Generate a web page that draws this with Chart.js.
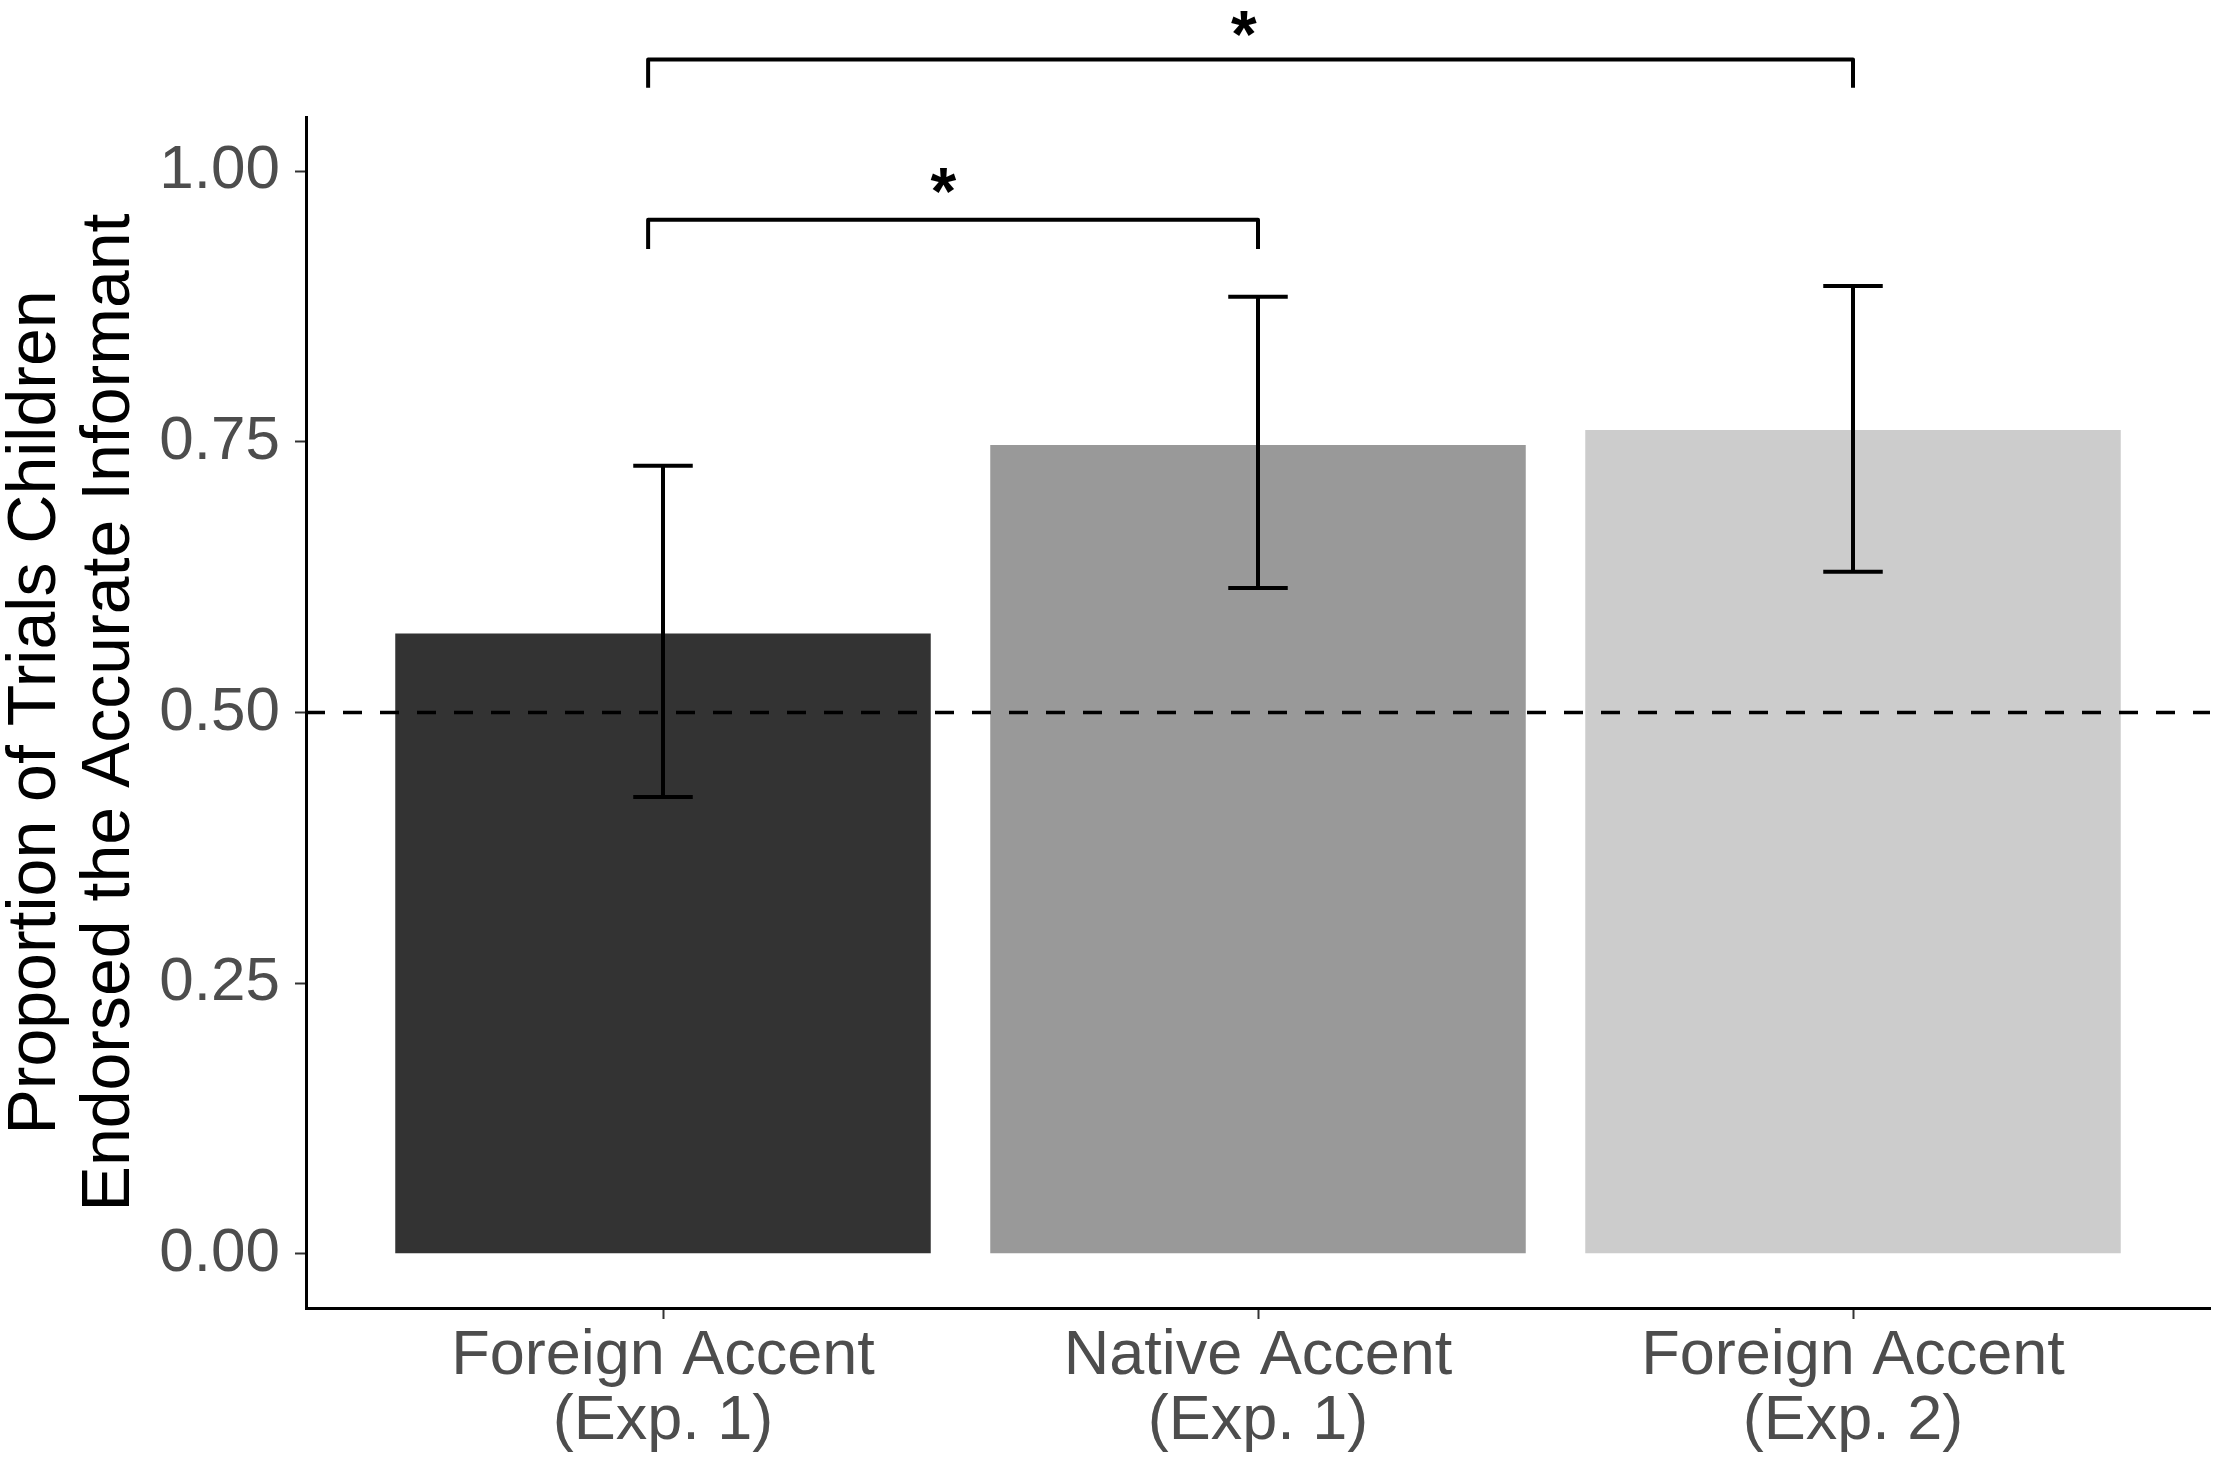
<!DOCTYPE html>
<html><head><meta charset="utf-8">
<script src="https://cdn.jsdelivr.net/npm/chart.js@4"></script>
<style>html,body{margin:0;padding:0;background:#fff;overflow:hidden}</style>
</head><body>
<canvas id="c" width="2217" height="1465" style="display:block;width:2217px;height:1465px"></canvas>
<script>
// ---- data ----
const categories = [["Foreign Accent", "(Exp. 1)"], ["Native Accent", "(Exp. 1)"], ["Foreign Accent", "(Exp. 2)"]];
const means = [0.573, 0.747, 0.761];
const errLow = [0.422, 0.615, 0.630];
const errHigh = [0.728, 0.884, 0.894];
const barColors = ["#333333", "#999999", "#cccccc"];
const yTickValues = [0, 0.25, 0.5, 0.75, 1.0];
const chanceLevel = 0.5;
const bracketFrom = [-0.025, -0.025];
const bracketTo = [1.0, 2.0];
const bracketY = [0.955, 1.103];
const bracketTipY = [0.928, 1.077];
const starLabels = ["*", "*"];
const starX = [0.471, 0.976];
const starY = [0.996, 1.141];
const yTitle = ["Proportion of Trials Children", "Endorsed the Accurate Informant"];

const FONT = "'Liberation Sans', Arial, Helvetica, sans-serif";

const overlay = {
  id: 'overlay',
  afterDatasetsDraw(chart) {
    const ctx = chart.ctx, xs = chart.scales.x, ys = chart.scales.y;
    ctx.save();
    ctx.strokeStyle = '#000';
    // dashed reference line
    ctx.lineWidth = 3.5;
    ctx.setLineDash([19, 18]);
    ctx.beginPath();
    const yc = ys.getPixelForValue(chanceLevel);
    ctx.moveTo(xs.getPixelForValue(xs.min), yc);
    ctx.lineTo(xs.getPixelForValue(xs.max), yc);
    ctx.stroke();
    ctx.setLineDash([]);
    // error bars
    ctx.lineWidth = 4;
    ctx.lineCap = 'butt';
    for (let i = 0; i < means.length; i++) {
      const xc = xs.getPixelForValue(i);
      const xl = xs.getPixelForValue(i - 0.05), xr = xs.getPixelForValue(i + 0.05);
      const yl = ys.getPixelForValue(errLow[i]), yh = ys.getPixelForValue(errHigh[i]);
      ctx.beginPath();
      ctx.moveTo(xc, yl); ctx.lineTo(xc, yh);
      ctx.moveTo(xl, yl); ctx.lineTo(xr, yl);
      ctx.moveTo(xl, yh); ctx.lineTo(xr, yh);
      ctx.stroke();
    }
    // significance brackets
    ctx.lineWidth = 4;
    ctx.lineJoin = 'round';
    for (let i = 0; i < bracketFrom.length; i++) {
      const x1 = xs.getPixelForValue(bracketFrom[i]), x2 = xs.getPixelForValue(bracketTo[i]);
      const yb = ys.getPixelForValue(bracketY[i]), yt = ys.getPixelForValue(bracketTipY[i]);
      ctx.beginPath();
      ctx.moveTo(x1, yt); ctx.lineTo(x1, yb); ctx.lineTo(x2, yb); ctx.lineTo(x2, yt);
      ctx.stroke();
      const fs = 66;
      ctx.font = 'bold ' + fs + 'px ' + FONT;
      ctx.fillStyle = '#000';
      ctx.textAlign = 'center';
      ctx.textBaseline = 'alphabetic';
      ctx.fillText(starLabels[i], xs.getPixelForValue(starX[i]), ys.getPixelForValue(starY[i]) + 0.58 * fs);
    }
    ctx.restore();
  }
};

new Chart(document.getElementById('c'), {
  type: 'bar',
  data: {
    datasets: [{
      data: means.map((v, i) => ({ x: i, y: v })),
      backgroundColor: barColors,
      borderWidth: 0,
      barPercentage: 0.9,
      categoryPercentage: 1.0
    }]
  },
  options: {
    responsive: false,
    devicePixelRatio: 1,
    animation: false,
    layout: { padding: { left: 0, right: 7, top: 117, bottom: 0 } },
    plugins: { legend: { display: false }, tooltip: { enabled: false }, title: { display: false } },
    scales: {
      x: {
        type: 'linear',
        offset: false,
        min: -0.6, max: 2.6,
        afterBuildTicks: s => { s.ticks = categories.map((c, i) => ({ value: i })); },
        afterFit: s => { s.height = 157; },
        ticks: {
          callback: v => categories[v],
          color: '#4d4d4d',
          font: { family: FONT, size: 63, lineHeight: 1.03 },
          padding: 5,
          maxRotation: 0, autoSkip: false
        },
        grid: { offset: false, drawOnChartArea: false, drawTicks: true, tickLength: 11, tickColor: '#333', tickWidth: 2, color: '#333' },
        border: { display: true, color: '#000', width: 3 }
      },
      y: {
        min: -0.05, max: 1.05,
        afterBuildTicks: s => { s.ticks = yTickValues.map(v => ({ value: v })); },
        afterFit: s => { s.width = 306; },
        ticks: {
          callback: v => Number(v).toFixed(2),
          color: '#4d4d4d',
          font: { family: FONT, size: 62 },
          padding: 15
        },
        grid: { drawOnChartArea: false, drawTicks: true, tickLength: 11, tickColor: '#333', tickWidth: 2, color: '#333' },
        border: { display: true, color: '#000', width: 3 },
        title: {
          display: true,
          text: yTitle,
          color: '#000',
          font: { family: FONT, size: 68, lineHeight: 1.08 },
          padding: { top: 0, bottom: 0 }
        }
      }
    }
  },
  plugins: [overlay]
});
</script>
</body></html>
